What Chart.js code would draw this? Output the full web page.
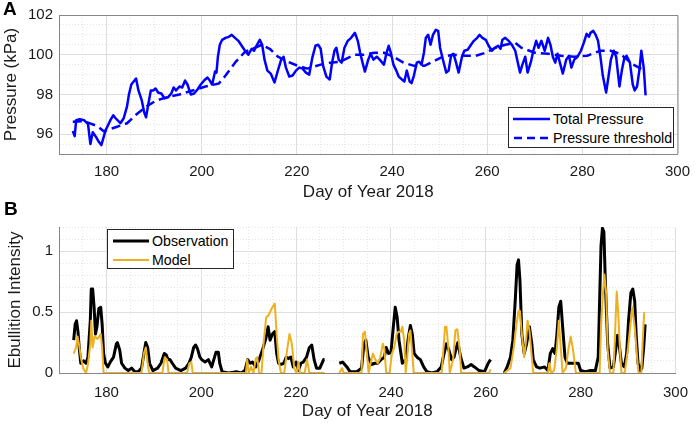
<!DOCTYPE html>
<html lang="en">
<head>
    <meta charset="UTF-8">
    <title>Pressure and Ebullition</title>
    <script src="https://cdn.jsdelivr.net/npm/chart.js@4"></script>
    <style>
        body {
            margin: 0;
            background: #fff;
            font-family: "Liberation Sans", Arial, sans-serif;
        }
        #wrap {
            position: relative;
            width: 699px;
            height: 424px;
        }
        .panel {
            position: absolute;
            left: 0;
            width: 699px;
        }
        .letter {
            position: absolute;
            font-weight: bold;
            font-size: 19px;
            color: #000;
        }
        .legend {
            position: absolute;
            background: #fff;
            border: 1px solid #262626;
            font-size: 14.2px;
            color: #000;
            box-sizing: border-box;
            white-space: nowrap;
        }
        .legend .row {
            display: flex;
            align-items: center;
            height: 19px;
        }
        .legend svg {
            margin-right: 3px;
            flex: none;
        }
    </style>
</head>
<body>
<div id="wrap">
    <div class="panel" style="top:0;height:204px"><canvas id="chartA"></canvas></div>
    <div class="panel" style="top:204px;height:220px"><canvas id="chartB"></canvas></div>
    <div class="letter" style="left:3px;top:-2px">A</div>
    <div class="letter" style="left:4px;top:198px">B</div>

    <div class="legend" style="left:508px;top:107px;width:166px;height:41px;padding:1px 0 0 4px">
        <div class="row"><svg width="37" height="6"><line x1="0" y1="3" x2="37" y2="3" stroke="#0000ff" stroke-width="2.5"/></svg>Total Pressure</div>
        <div class="row"><svg width="37" height="6"><line x1="1" y1="3" x2="37" y2="3" stroke="#0000ff" stroke-width="2.5" stroke-dasharray="8,5"/></svg>Pressure threshold</div>
    </div>
    <div class="legend" style="left:107px;top:229px;width:127px;height:40px;padding:1px 0 0 5px">
        <div class="row"><svg width="36" height="6"><line x1="0" y1="3" x2="36" y2="3" stroke="#000" stroke-width="3"/></svg>Observation</div>
        <div class="row"><svg width="36" height="6"><line x1="0" y1="3" x2="36" y2="3" stroke="#edb120" stroke-width="2"/></svg>Model</div>
    </div>
</div>

<script>
    // Panel A: total pressure (kPa) by day of year
    const pDays = [172.9, 173.3, 173.6, 174.4, 175.3, 176.1, 176.6, 177.1, 177.8, 178.4, 178.9, 179.8,
        180.8, 181.4, 181.9, 182.9, 183.6, 184.3, 184.7, 185.2, 185.7, 186.2, 186.7, 187.4, 187.9, 188.3,
        188.8, 189.3, 189.8, 190.3, 190.8, 191.5, 192.2, 192.9, 193.6, 194.1, 194.6, 195.3, 195.9, 196.5,
        197.0, 197.7, 198.4, 199.1, 199.8, 200.5, 201.2, 201.7, 202.2, 202.8, 203.1, 203.4, 203.8, 204.3,
        205.0, 205.7, 206.3, 207.0, 207.7, 208.4, 209.1, 209.8, 210.5, 211.0, 211.5, 212.2, 212.7, 213.2,
        213.8, 214.5, 215.3, 216.0, 216.7, 217.2, 217.7, 218.4, 219.1, 219.8, 220.5, 221.2, 221.9, 222.6,
        223.2, 223.9, 224.5, 225.0, 225.5, 226.2, 226.9, 227.4, 227.9, 228.3, 228.8, 229.4, 230.0, 230.7,
        231.4, 232.2, 232.8, 233.3, 233.8, 234.3, 235.0, 235.5, 236.1, 236.8, 237.4, 238.3, 238.8, 239.3,
        239.8, 240.3, 240.9, 241.4, 242.1, 242.6, 243.1, 243.7, 244.1, 244.6, 245.2, 245.7, 246.2, 246.7,
        247.1, 247.6, 248.1, 248.6, 249.2, 249.7, 250.1, 250.7, 251.4, 251.9, 252.4, 252.9, 253.4, 254.0,
        254.7, 255.2, 255.9, 256.6, 257.2, 257.9, 258.4, 259.0, 259.7, 260.3, 261.0, 261.6, 262.3, 262.8,
        263.2, 263.8, 264.5, 265.2, 265.9, 266.4, 266.9, 267.4, 268.0, 268.5, 269.2, 269.7, 270.3, 270.8,
        271.4, 272.1, 272.8, 273.3, 273.8, 274.3, 274.8, 275.4, 275.9, 276.6, 277.2, 277.7, 278.3, 279.0,
        279.7, 280.3, 280.9, 281.4, 281.7, 282.3, 282.8, 283.3, 283.8, 284.3, 285.0, 285.5, 286.0, 286.6,
        287.1, 287.8, 288.3, 288.8, 289.3, 290.0, 290.6, 291.0, 291.5, 292.0, 292.4, 292.9, 293.3];
    const pVals = [96.16, 95.9, 96.7, 96.75, 96.7, 96.5, 95.5, 96.1, 95.85, 95.6, 95.45, 96.2,
        96.7, 96.95, 96.8, 96.55, 96.8, 97.4, 98.0, 98.5, 98.65, 98.8, 98.2, 97.7, 97.1, 96.85,
        97.55, 98.2, 98.2, 98.3, 98.1, 98.05, 97.8, 97.85, 98.05, 98.35, 98.2, 98.4, 98.35, 98.7,
        98.5, 98.0, 98.05, 98.25, 98.5, 98.7, 98.85, 98.7, 98.5, 99.15, 99.1, 99.9, 100.5, 100.75,
        100.85, 100.9, 101.0, 100.85, 100.7, 100.45, 100.2, 100.0, 100.3, 100.2, 100.45, 100.75, 100.5, 99.75,
        99.2, 99.05, 98.6, 99.2, 99.75, 99.9, 99.35, 98.9, 98.95, 99.2, 99.35, 99.3, 99.1, 99.0,
        99.8, 100.45, 100.5, 100.3, 99.45, 98.9, 98.75, 99.6, 100.2, 100.35, 99.75, 99.6, 100.35, 100.7,
        100.85, 101.1, 100.7, 100.1, 99.6, 99.15, 99.75, 100.05, 99.75, 99.9, 99.75, 99.5, 100.05, 100.45,
        100.05, 99.5, 99.2, 98.9, 98.75, 98.65, 99.2, 98.65, 98.57, 98.95, 99.6, 99.65, 99.5, 100.1,
        100.85, 101.0, 100.5, 101.0, 101.25, 101.2, 100.35, 99.75, 99.1, 99.2, 99.95, 100.05, 99.65, 99.1,
        99.9, 100.2, 100.25, 100.5, 100.7, 100.85, 101.0, 100.85, 100.75, 100.45, 100.2, 100.35, 100.45, 100.3,
        100.75, 100.85, 100.7, 100.5, 100.2, 99.65, 99.1, 99.5, 99.9, 99.1, 99.65, 100.2, 100.7, 100.35,
        100.7, 100.2, 100.85, 100.5, 99.9, 99.6, 100.05, 99.5, 99.05, 99.75, 99.95, 99.35, 99.75, 99.9,
        100.2, 100.6, 101.05, 100.9, 101.1, 101.2, 101.0, 100.7, 99.9, 98.95, 98.1, 98.9, 99.75, 100.2,
        99.9, 98.4, 99.2, 99.8, 99.95, 99.6, 98.5, 98.2, 98.4, 99.25, 100.2, 99.35, 97.95];

    // Panel A: pressure threshold (kPa)
    const tDays = [172.9, 175.3, 178.1, 179.4, 181.9, 184.3, 186.3, 188.4, 190.5, 192.6, 195.3, 198.1,
        200.8, 203.6, 205.0, 207.0, 209.1, 211.2, 212.6, 214.3, 216.0, 218.1, 220.1, 222.2, 225.0, 227.0,
        229.1, 232.1, 234.1, 236.2, 238.3, 240.3, 242.4, 244.5, 246.9, 248.6, 250.7, 252.8, 255.5, 257.6,
        259.7, 261.7, 263.8, 265.9, 267.2, 270.0, 272.8, 275.5, 278.3, 281.0, 283.8, 285.9, 287.9, 290.7, 293.1];
    const tVals = [96.63, 96.65, 96.4, 96.15, 96.35, 96.55, 97.0, 97.4, 97.7, 97.85, 98.0, 98.2,
        98.4, 98.55, 98.95, 99.6, 100.15, 100.35, 100.5, 100.3, 99.9, 99.65, 99.45, 99.3, 99.5, 99.6,
        99.65, 100.0, 100.0, 100.1, 100.1, 99.9, 99.6, 99.45, 99.45, 99.65, 99.9, 100.0, 99.95, 99.95,
        100.1, 100.35, 100.5, 100.6, 100.35, 100.1, 100.05, 99.95, 99.9, 99.95, 100.2, 100.2, 100.05, 99.5, 99.2];

    // Panel B: observed ebullition intensity (null = no data)
    const obsDays = [173.1, 173.4, 173.7, 174.0, 174.3, 174.6, 175.2, 175.7, 176.1, 176.6, 176.8, 177.1,
        177.4, 177.7, 178.0, 178.4, 178.8, 179.1, 179.4, 179.8, 180.3, 180.8, 181.5, 182.1, 182.3, 182.8,
        183.2, 183.9, 184.6, 185.3, 186.0, 186.7, 187.4, 187.9, 188.3, 188.7, 189.1, 189.8, 190.8, 191.5,
        192.2, 192.6, 193.0, 193.4, 193.9, 194.6, 195.7, 196.7, 197.4, 197.9, 198.4, 198.8, 199.2, 199.7,
        200.1, 200.8, 201.5, 202.2, 202.8, 203.1, 203.6, 203.9, 204.4, 205.7, 206.5, 207.4, 208.4, 209.2,
        209.8, 210.3, 210.8, 211.5, 212.2, 212.9, 213.6, 214.1, 214.5, 215.0, 215.5, 215.9, 216.3, 216.8,
        217.4, 217.9, 218.4, 218.9, 219.4, 220.0, 220.5, 221.0, 221.5, 222.2, 222.8, 223.3, 223.8, 224.3,
        225.0, 225.8, 226.0, 227.5, 229.1, 229.8, 230.7, 231.4, 232.8, 233.8, 234.3, 234.7, 235.2, 235.9,
        236.6, 237.2, 237.9, 238.6, 239.0, 239.5, 240.0, 240.5, 240.9, 241.3, 241.7, 242.4, 243.1, 243.7,
        244.1, 244.5, 244.9, 245.5, 246.2, 246.9, 247.6, 248.6, 249.7, 250.6, 251.2, 251.7, 252.2, 252.8,
        253.3, 253.8, 254.1, 254.7, 255.4, 256.1, 256.9, 257.6, 258.6, 259.7, 260.5, 261.0, 262.5, 263.9,
        264.5, 265.2, 265.7, 266.2, 266.6, 266.9, 267.2, 267.6, 268.1, 268.6, 269.2, 269.7, 270.0, 270.7,
        271.4, 272.4, 273.1, 273.6, 274.1, 274.6, 275.0, 275.4, 275.8, 276.2, 276.7, 277.2, 277.9, 278.8,
        279.5, 280.0, 281.0, 282.1, 283.1, 283.7, 284.0, 284.3, 284.6, 284.9, 285.2, 285.7, 286.2, 286.9,
        287.4, 287.8, 288.2, 288.6, 289.2, 289.7, 290.1, 290.6, 291.0, 291.4, 291.7, 292.1, 292.6, 292.9,
        293.3, 293.6];
    const obsVals = [0.27, 0.40, 0.43, 0.34, 0.19, 0.08, 0.10, 0.08, 0.13, 0.43, 0.69, 0.69,
        0.54, 0.32, 0.38, 0.53, 0.54, 0.40, 0.16, 0.08, 0.05, 0.09, 0.13, 0.24, 0.25, 0.19,
        0.08, 0.04, 0.02, 0.04, 0.01, 0.01, 0.04, 0.16, 0.25, 0.21, 0.08, 0.02, 0.04, 0.08,
        0.16, 0.15, 0.11, 0.11, 0.08, 0.04, 0.02, 0.04, 0.08, 0.13, 0.21, 0.23, 0.20, 0.13,
        0.11, 0.09, 0.11, 0.05, 0.13, 0.17, 0.17, 0.08, 0.01, 0.0, 0.005, 0.01, 0.0, 0.02,
        0.11, 0.08, 0.09, 0.05, 0.11, 0.19, 0.28, 0.38, 0.27, 0.32, 0.34, 0.16, 0.08, 0.07,
        0.08, 0.13, 0.12, 0.13, 0.05, 0.09, 0.02, 0.08, 0.09, 0.13, 0.21, 0.23, 0.11, 0.04,
        0.04, 0.11, 0.11, null, 0.08, 0.09, 0.05, 0.01, 0.01, 0.04, 0.24, 0.27, 0.13, 0.07,
        0.08, 0.08, 0.11, 0.13, 0.21, 0.16, 0.17, 0.38, 0.54, 0.46, 0.27, 0.08, 0.11, 0.30,
        0.39, 0.32, 0.16, 0.13, 0.11, 0.05, 0.01, 0.0, 0.01, 0.05, 0.16, 0.24, 0.19, 0.11,
        0.13, 0.21, 0.25, 0.13, 0.04, 0.05, 0.07, 0.05, 0.02, 0.01, 0.08, 0.11, null, 0.0,
        0.05, 0.13, 0.27, 0.59, 0.89, 0.93, 0.76, 0.32, 0.16, 0.24, 0.38, 0.24, 0.11, 0.05,
        0.04, 0.05, 0.02, 0.16, 0.20, 0.16, 0.32, 0.54, 0.59, 0.38, 0.13, 0.08, 0.08, 0.08,
        0.08, 0.02, 0.01, 0.02, 0.02, 0.13, 0.59, 1.05, 1.19, 1.16, 0.76, 0.24, 0.04, 0.05,
        0.19, 0.31, 0.21, 0.08, 0.05, 0.16, 0.43, 0.66, 0.69, 0.59, 0.32, 0.08, 0.02, 0.04,
        0.21, 0.40];

    // Panel B: modelled ebullition intensity (null = no data)
    const modDays = [173.1, 173.6, 173.9, 174.2, 174.6, 175.1, 175.7, 176.1, 176.6, 176.8, 177.1, 177.5,
        178.1, 178.8, 179.1, 179.4, 187.4, 187.9, 188.3, 188.7, 189.0, 191.8, 192.3, 192.8, 193.1, 197.0,
        197.5, 197.9, 198.2, 209.4, 209.7, 210.0, 210.5, 211.0, 211.5, 211.8, 212.2, 212.7, 213.2, 213.7,
        214.1, 214.5, 215.0, 215.5, 215.9, 216.3, 216.8, 217.5, 218.1, 218.6, 219.1, 219.6, 220.1, 220.5,
        220.8, 221.8, 222.3, 222.8, 226.0, 227.5, 229.1, 229.7, 230.0, 233.8, 234.1, 234.5, 235.0, 235.3,
        235.7, 236.2, 236.7, 237.2, 237.7, 238.3, 238.6, 239.0, 239.7, 240.2, 240.7, 241.2, 241.6, 242.1,
        242.4, 242.8, 243.1, 243.4, 243.8, 244.1, 244.5, 244.8, 250.7, 251.0, 251.4, 251.7, 252.1, 252.4,
        253.1, 253.6, 254.0, 254.5, 254.8, 260.7, 261.0, 262.5, 263.9, 265.2, 265.9, 266.4, 266.9, 267.2,
        267.6, 268.1, 268.5, 268.8, 269.2, 269.7, 270.0, 273.1, 273.4, 273.8, 274.4, 275.0, 275.4, 275.8,
        276.2, 276.9, 277.4, 277.9, 278.4, 279.0, 284.0, 284.3, 284.7, 285.0, 285.4, 285.7, 286.2, 286.9,
        287.2, 287.6, 287.9, 288.3, 288.6, 289.3, 290.0, 290.5, 290.9, 291.4, 291.9, 292.2, 292.8, 293.1,
        293.4];
    const modVals = [0.16, 0.21, 0.30, 0.24, 0.13, 0.04, 0.0, 0.07, 0.24, 0.43, 0.21, 0.30,
        0.28, 0.32, 0.21, 0.0, 0.0, 0.16, 0.21, 0.08, 0.0, 0.0, 0.13, 0.11, 0.0, 0.0,
        0.08, 0.09, 0.0, 0.0, 0.11, 0.0, 0.05, 0.0, 0.12, 0.13, 0.0, 0.0, 0.27, 0.46,
        0.47, 0.50, 0.54, 0.57, 0.32, 0.11, 0.0, 0.0, 0.19, 0.32, 0.24, 0.04, 0.0, 0.09,
        0.0, 0.0, 0.11, 0.0, 0.0, null, 0.0, 0.04, 0.0, 0.0, 0.32, 0.34, 0.13, 0.0,
        0.08, 0.16, 0.11, 0.08, 0.12, 0.24, 0.20, 0.0, 0.0, 0.16, 0.21, 0.32, 0.34, 0.34,
        0.38, 0.27, 0.0, 0.11, 0.32, 0.35, 0.16, 0.0, 0.0, 0.16, 0.38, 0.38, 0.21, 0.0,
        0.11, 0.35, 0.36, 0.19, 0.0, 0.0, 0.03, null, 0.0, 0.04, 0.21, 0.38, 0.51, 0.51,
        0.32, 0.13, 0.27, 0.43, 0.35, 0.13, 0.0, 0.0, 0.08, 0.0, 0.02, 0.21, 0.43, 0.21,
        0.0, 0.04, 0.19, 0.30, 0.19, 0.0, 0.0, 0.38, 0.65, 0.81, 0.65, 0.19, 0.0, 0.0,
        0.27, 0.67, 0.51, 0.19, 0.0, 0.0, 0.21, 0.40, 0.54, 0.38, 0.13, 0.0, 0.0, 0.27,
        0.50];

    const xTicks = [180, 200, 220, 240, 260, 280, 300];
    const pressureTicks = [96, 98, 100, 102];
    const ebullitionTicks = [0, 0.5, 1];

    const FONT = '"Liberation Sans", Arial, sans-serif';
    const AXIS = '#868686';
    const MAJOR = '#dedede';
    const MINOR = '#e6e6e6';

    const pts = (xs, ys) => xs.map((x, i) => ({ x: x, y: ys[i] }));
    const near = (v, list) => list.some(t => Math.abs(t - v) < 1e-6);

    // grid: solid major lines, dotted minor lines
    function gridFor(major) {
        return {
            color: c => (c.tick && near(c.tick.value, major)) ? MAJOR : MINOR,
            lineWidth: 1,
            drawTicks: false
        };
    }
    function borderFor(major) {
        return {
            color: AXIS,
            width: 1,
            dash: c => (c.tick && !near(c.tick.value, major)) ? [1, 2] : []
        };
    }

    function xScale(height, titlePad, tickPad) {
        return {
            type: 'linear',
            min: 170,
            max: 300,
            afterBuildTicks: s => {
                s.ticks = [];
                for (let v = 170; v <= 300; v += 5) s.ticks.push({ value: v });
            },
            afterFit: s => { s.height = height; },
            ticks: {
                autoSkip: false,
                maxRotation: 0,
                padding: tickPad,
                color: '#1a1a1a',
                font: { family: FONT, size: 15 },
                callback: v => near(v, xTicks) ? String(v) : ''
            },
            grid: gridFor(xTicks),
            border: borderFor(xTicks),
            title: {
                display: true,
                text: 'Day of Year 2018',
                color: '#1a1a1a',
                font: { family: FONT, size: 17 },
                padding: { top: 0, bottom: titlePad }
            }
        };
    }

    function yScale(min, max, step, major, label, titlePad, fmt) {
        return {
            type: 'linear',
            min: min,
            max: max,
            afterBuildTicks: s => {
                s.ticks = [];
                const n = Math.round((max - min) / step);
                for (let i = 0; i <= n; i++) s.ticks.push({ value: +(min + i * step).toFixed(4) });
            },
            afterFit: s => { s.width = 59; },
            ticks: {
                autoSkip: false,
                padding: 6,
                color: '#1a1a1a',
                font: { family: FONT, size: 15 },
                callback: v => near(v, major) ? fmt(v) : ''
            },
            grid: gridFor(major),
            border: borderFor(major),
            title: {
                display: true,
                text: label,
                color: '#1a1a1a',
                font: { family: FONT, size: 17 },
                padding: { top: titlePad, bottom: 0 }
            }
        };
    }

    // top and right edges of the axes box (panel A only)
    const boxPlugin = {
        id: 'box',
        afterDraw(chart) {
            const a = chart.chartArea;
            const ctx = chart.ctx;
            ctx.save();
            ctx.strokeStyle = AXIS;
            ctx.lineWidth = 1;
            ctx.beginPath();
            ctx.moveTo(a.left, a.top + 0.5);
            ctx.lineTo(a.right + 0.5, a.top + 0.5);
            ctx.lineTo(a.right + 0.5, a.bottom);
            ctx.stroke();
            ctx.restore();
        }
    };

    const common = {
        responsive: true,
        maintainAspectRatio: false,
        animation: false,
        parsing: true,
        plugins: { legend: { display: false }, tooltip: { enabled: false } },
        elements: { point: { radius: 0 }, line: { tension: 0, borderJoinStyle: 'round', borderCapStyle: 'butt' } }
    };

    new Chart(document.getElementById('chartA'), {
        type: 'line',
        data: {
            datasets: [{
                label: 'Total Pressure',
                data: pts(pDays, pVals),
                borderColor: '#0000ff',
                borderWidth: 2.5
            }, {
                label: 'Pressure threshold',
                data: pts(tDays, tVals),
                borderColor: '#0000ff',
                borderWidth: 2.5,
                borderDash: [9, 5]
            }]
        },
        options: Object.assign({}, common, {
            layout: { padding: { top: 5, right: 16, left: 0, bottom: 0 } },
            scales: {
                x: xScale(50, 1, 9),
                y: yScale(95, 102, 0.5, pressureTicks, 'Pressure (kPa)', 1, v => String(v))
            }
        }),
        plugins: [boxPlugin]
    });

    new Chart(document.getElementById('chartB'), {
        type: 'line',
        data: {
            datasets: [{
                label: 'Model',
                data: pts(modDays, modVals),
                borderColor: '#edb120',
                borderWidth: 2,
                spanGaps: false,
                order: 0
            }, {
                label: 'Observation',
                data: pts(obsDays, obsVals),
                borderColor: '#000000',
                borderWidth: 3,
                spanGaps: false,
                order: 1
            }]
        },
        options: Object.assign({}, common, {
            layout: { padding: { top: 23, right: 16, left: 0, bottom: 0 } },
            scales: {
                x: xScale(51, 2, 11),
                y: yScale(0, 1.2, 0.1, ebullitionTicks, 'Ebullition Intensity', 5, v => String(v))
            }
        })
    });
</script>
</body>
</html>
